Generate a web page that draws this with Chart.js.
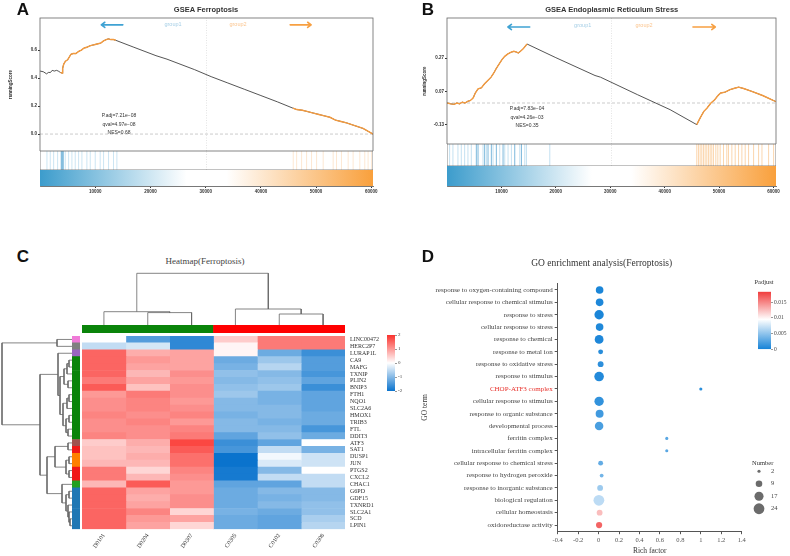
<!DOCTYPE html>
<html><head><meta charset="utf-8">
<script src="https://cdn.jsdelivr.net/npm/chart.js@4.4.1/dist/chart.umd.min.js"></script>
<style>
body{margin:0;background:#fff;}
#wrap{position:relative;width:790px;height:556px;overflow:hidden;font-family:"Liberation Sans",Arial,sans-serif;}
#wrap canvas{position:absolute;}
.t{position:absolute;white-space:nowrap;transform:translate(-50%,-50%);line-height:1;}
</style></head><body><div id="wrap"></div>
<script>
// ---------- A: GSEA Ferroptosis ----------
const aRank = [0,600,1200,1500,1900,2200,2600,3000,3300,3700,4000,4100,4300,4600,5000,5300,5600,6000,6500,7000,7500,8000,8500,9000,9500,10000,10500,11000,11500,12000,12400,12800,13300,13700,17000,21000,23000,25000,28000,31000,34000,37000,40000,43000,45800,46500,47500,48500,49500,50500,51500,52500,53500,54500,55500,57000,58500,60300];
const aScore = [0.45,0.445,0.43,0.44,0.44,0.455,0.45,0.455,0.45,0.44,0.435,0.47,0.50,0.52,0.53,0.55,0.57,0.575,0.575,0.59,0.60,0.615,0.62,0.63,0.635,0.64,0.645,0.65,0.665,0.675,0.68,0.675,0.675,0.67,0.62,0.56,0.535,0.505,0.46,0.41,0.365,0.32,0.275,0.23,0.185,0.175,0.17,0.16,0.15,0.14,0.13,0.12,0.10,0.09,0.08,0.06,0.04,0.0];
const aHitRanges = [[3700,13700],[45800,60300]];
const aHitsBlue = [1260,1860,2470,3190,4570,5180,5780,6380,6990,7590,8490,9100,10000,10900,11510,12410,13310,13920];
const aHitsBlueStrong = [3850,4030,4210];
const aHitsOrange = [45860,46470,47370,48270,49170,50080,51280,53090,53690,54590,55800,56700,57910,58810,59410,60020];
const aTicksY = [0, 0.2, 0.4, 0.6];
const aMaxRank = 60300;

// ---------- B: GSEA Endoplasmic Reticulum Stress ----------
const bRank = [0,700,1300,1800,2300,2800,3300,3800,4300,4800,5200,5700,6300,6900,7500,8100,8600,9100,9600,10100,10600,11200,11800,12300,12800,13100,13500,14000,14700,20000,27200,28200,35000,41000,45900,46200,46600,47200,47800,48500,49200,49800,50300,51100,52000,53000,53600,54500,56000,58000,60460];
const bScore = [0.0,-0.005,-0.008,0.0,-0.005,0.005,0.0,0.01,0.015,0.03,0.06,0.085,0.09,0.115,0.135,0.155,0.18,0.21,0.235,0.26,0.28,0.295,0.305,0.31,0.305,0.30,0.31,0.325,0.354,0.272,0.165,0.155,0.05,-0.04,-0.13,-0.11,-0.085,-0.05,-0.03,0.0,0.02,0.045,0.06,0.065,0.08,0.09,0.095,0.087,0.07,0.045,0.008];
const bHitRanges = [[0,14700],[45900,60460]];
const bHitsBlue = [480,1090,2010,2630,3240,3850,4470,6620,7240,8460,9690,10610,11220,11840,13370,14290,14600,18890];
const bHitsBlueStrong = [5390,5700,6920,7540,8150,9070,10300,12450,13680];
const bHitsOrange = [45900,46210,46520,46820,47130,47440,47740,48050,48360,48660,48970,49400,49770,50200,50810,51420,51730,52350,52960,53580,54190,54800,55420,56340,57260,57880,59100,60020];
const bTicksY = [-0.13, 0.07, 0.27];
const bMaxRank = 60460;
const rankTicks = [10000, 20000, 30000, 40000, 50000, 60000];

// ---------- C: heatmap ----------
const samples = ['D0101','D0204','D0307','C0305','C0102','C0308'];
const sampleGroup = ['D','D','D','C','C','C'];
const genes = ['LINC00472','HERC2P7','LURAP1L','CA9','MAFG','TXNIP','PLIN2','BNIP3','FTH1','NQO1','SLC2A6','HMOX1','TRIB3','FTL','DDIT3','ATF3','SAT1','DUSP1','JUN','PTGS2','CXCL2','CHAC1','G6PD','GDF15','TXNRD1','SLC2A1','SCD','LPIN1'];
const geneCluster = ['pink','gray','purple','green','green','green','green','green','green','green','green','green','green','green','green','brown','red','orange','orange','red','red','lime','blue','blue','blue','blue','blue','blue'];
const hmValues = [
  [0.0,-1.4,-1.7,0.5,1.3,1.3],
  [-0.5,-0.35,-1.7,0.1,1.3,1.3],
  [1.5,0.8,0.9,0.1,-1.2,-1.6],
  [1.5,1.0,0.9,-1.2,-0.8,-1.4],
  [1.5,0.9,0.9,-1.1,-0.6,-1.4],
  [1.5,0.7,1.1,-0.9,-1.0,-1.5],
  [1.3,0.9,1.0,-1.0,-0.9,-1.3],
  [1.6,0.6,1.1,-0.9,-0.8,-1.6],
  [1.0,1.3,1.1,-0.8,-1.1,-1.3],
  [1.1,1.2,1.0,-1.0,-1.1,-1.3],
  [1.1,1.2,1.1,-1.0,-1.0,-1.3],
  [1.2,1.1,1.2,-1.1,-1.0,-1.2],
  [1.1,1.2,1.0,-1.0,-1.1,-1.2],
  [1.1,1.1,1.2,-1.0,-1.0,-1.5],
  [1.2,1.1,1.3,-1.3,-0.9,-1.2],
  [0.5,0.8,1.8,-1.6,-1.3,0.0],
  [0.6,0.7,1.6,-1.5,-0.5,-1.1],
  [0.6,0.8,1.4,-2.0,-0.1,-0.4],
  [0.7,0.7,1.4,-2.0,-0.3,-0.4],
  [1.3,0.4,1.2,-1.9,-1.0,0.0],
  [1.3,0.7,1.1,-1.9,-0.5,-0.5],
  [0.7,1.6,1.0,-1.3,-1.3,-0.5],
  [1.5,0.9,1.0,-1.2,-1.0,-1.0],
  [1.5,0.8,1.1,-1.2,-1.1,-1.0],
  [1.5,0.9,1.1,-1.2,-1.0,-0.9],
  [1.5,1.2,0.4,-1.1,-1.2,-0.9],
  [1.5,1.0,0.9,-1.2,-1.3,-0.7],
  [1.5,0.9,0.4,-1.2,-1.3,-0.6]
];
// dendrograms: [left, right, height], leaves are indices
const colTree = [[0,[1,2,12.4],13.3],[3,[4,5,11],16],51.7];
const rowTree = [[0,1,15],
  [[2,[[[[3,4,3],5,5],[6,7,4],8],[[[8,9,3],10,5],[[11,12,3],[13,14,4],6],9],12],14],
   [[[15,16,4],[[17,18,3],[19,20,3],6],17],[21,[[22,23,3],[24,[25,[26,27,2],3],4],6],10],25],32],70];
const hmLegendTicks = [-2,-1,0,1,2];

// ---------- D: GO enrichment ----------
const goTerms = ['response to oxygen-containing compound','cellular response to chemical stimulus','response to stress','cellular response to stress','response to chemical','response to metal ion','response to oxidative stress','response to stimulus','CHOP-ATF3 complex','cellular response to stimulus','response to organic substance','developmental process','ferritin complex','intracellular ferritin complex','cellular response to chemical stress','response to hydrogen peroxide','response to inorganic substance','biological regulation','cellular homeostasis','oxidoreductase activity'];
const richFactor = [0.01,0.01,0.005,0.01,0.005,0.02,0.02,0.005,1.0,0.005,0.01,0.005,0.667,0.667,0.02,0.03,0.015,0.003,0.01,0.005];
const geneCount = [12,12,18,12,16,5,7,19,2,18,13,15,2,2,5,3,7,24,7,8];
const padj = [0.0003,0.0004,0.0003,0.0005,0.0004,0.0008,0.001,0.0006,0.0009,0.0012,0.0018,0.0022,0.0028,0.0028,0.0032,0.0038,0.0055,0.0068,0.0125,0.0165];
const highlightTerm = 'CHOP-ATF3 complex';
const richTicks = [-0.4,-0.2,0,0.2,0.4,0.6,0.8,1,1.2,1.4];
const padjTicks = [0,0.005,0.01,0.015];
const padjMax = 0.0183;
const numLegend = [2,9,17,24];

// ---------- helpers ----------
Chart.defaults.animation = false;
Chart.defaults.responsive = false;
Chart.defaults.plugins.legend.display = false;
Chart.defaults.plugins.tooltip.enabled = false;
Chart.defaults.font.family = '"Liberation Sans", Arial, sans-serif';
Chart.defaults.color = '#333';
Chart.defaults.layout.autoPadding = false;
const serif = '"Liberation Serif", "Times New Roman", serif';

const wrap = document.getElementById('wrap');
function cv(left, top, w, h) {
  const c = document.createElement('canvas');
  c.width = w; c.height = h;
  c.style.left = left + 'px'; c.style.top = top + 'px';
  wrap.appendChild(c);
  return c.getContext('2d');
}
function label(text, x, y, css) {
  const d = document.createElement('div');
  d.className = 't'; d.textContent = text;
  d.style.cssText = 'left:' + x + 'px;top:' + y + 'px;' + (css || '');
  wrap.appendChild(d);
}
// fix an axis box size and drop the extra padding Chart.js keeps for edge labels
const fit = (w, h) => s => {
  if (w != null) s.width = w;
  if (h != null) s.height = h;
  s.paddingTop = s.paddingBottom = s.paddingLeft = s.paddingRight = 0;
};
const mix = (a, b, t) => a.map((v, i) => Math.round(v + (b[i] - v) * t));
const rgb = c => 'rgb(' + c.join(',') + ')';
const hmLow = [10,115,205], hmHigh = [250,50,45], white = [255,255,255];
function heatColor(v) {
  const t = Math.max(-1, Math.min(1, v / 2));
  return rgb(t < 0 ? mix(white, hmLow, -t) : mix(white, hmHigh, t));
}
const padjLow = [20,130,215], padjHigh = [240,60,60], padjMid = 0.0095;
function padjColor(p) {
  return rgb(p < padjMid ? mix(padjLow, white, p / padjMid) : mix(white, padjHigh, Math.min(1, (p - padjMid) / (padjMax - padjMid))));
}
const frame = col => ({id: 'frame', afterDraw(ch) {
  const a = ch.chartArea, c = ch.ctx;
  c.save(); c.strokeStyle = col; c.lineWidth = 0.8;
  c.strokeRect(a.left, a.top, a.right - a.left, a.bottom - a.top); c.restore();
}});
const arrows = list => ({id: 'arrows', afterDatasetsDraw(ch) {
  const c = ch.ctx, sx = ch.scales.x, sy = ch.scales.y;
  list.forEach(a => {
    const x1 = sx.getPixelForValue(a.from), x2 = sx.getPixelForValue(a.to), y = sy.getPixelForValue(a.y), d = Math.sign(x2 - x1);
    c.save(); c.strokeStyle = a.color; c.lineWidth = 1.6; c.lineCap = 'round'; c.lineJoin = 'round';
    c.beginPath(); c.moveTo(x1, y); c.lineTo(x2, y);
    c.moveTo(x2 - d * 3.5, y - 2.6); c.lineTo(x2, y); c.lineTo(x2 - d * 3.5, y + 2.6);
    c.stroke(); c.restore();
  });
}});

// running score panel (Chart.js paints the first dataset on top)
function gseaRunning(ctx, xs, ys, ranges, xmax, ymin, ymax, yTicks, dec, yW, titlePad, padR, arrowList) {
  const pts = xs.map((x, i) => ({x, y: ys[i]}));
  const hit = xs.map((x, i) => ({x, y: ranges.some(r => x >= r[0] && x <= r[1]) ? ys[i] : null}));
  new Chart(ctx, {
    type: 'line',
    data: {datasets: [
      {data: hit, borderColor: '#f49b3f', borderWidth: 1.4, spanGaps: false},
      {data: pts, borderColor: '#2a2a2a', borderWidth: 0.8},
      {data: [{x: xmax / 2, y: ymin}, {x: xmax / 2, y: ymax}], borderColor: '#d8d8d8', borderWidth: 0.7, borderDash: [1, 1.5]},
      {data: [{x: 0, y: 0}, {x: xmax, y: 0}], borderColor: '#b5b5b5', borderWidth: 0.7, borderDash: [3, 2]}
    ]},
    options: {
      layout: {padding: {top: 18, right: padR, bottom: 0, left: 0}},
      elements: {point: {radius: 0}, line: {tension: 0}},
      scales: {
        x: {type: 'linear', min: 0, max: xmax, display: false},
        y: {min: ymin, max: ymax, afterFit: fit(yW, null),
          afterBuildTicks: s => { s.ticks = yTicks.map(v => ({value: v})); },
          ticks: {callback: v => v.toFixed(dec), font: {size: 4.5, weight: 'bold'}, padding: 1, color: '#333'},
          grid: {drawOnChartArea: false, tickLength: 2, color: '#333'}, border: {display: false},
          title: {display: true, text: 'runningScore', font: {size: 4.5, weight: 'bold'}, padding: {top: titlePad, bottom: 0}}}
      }
    },
    plugins: [frame('#666'), arrows(arrowList)]
  });
}
// gene hit barcode
function barcode(ctx, xmax, sets) {
  const lines = hits => hits.flatMap(x => [{x, y: 0}, {x, y: 1}, {x, y: null}]);
  new Chart(ctx, {
    type: 'line',
    data: {datasets: sets.map(s => ({data: lines(s.hits), borderColor: s.color, borderWidth: 0.8}))
      .concat([{data: [{x: xmax / 2, y: 0}, {x: xmax / 2, y: 1}], borderColor: '#d8d8d8', borderWidth: 0.7, borderDash: [1, 1.5]}])},
    options: {elements: {point: {radius: 0}},
      scales: {x: {type: 'linear', min: 0, max: xmax, display: false}, y: {min: 0, max: 1, display: false}}},
    plugins: [frame('#666')]
  });
}
// rank gradient with x axis
function rankBar(ctx, xmax, padL, padR) {
  new Chart(ctx, {
    type: 'line',
    data: {datasets: [{data: [{x: 0, y: 1}, {x: xmax, y: 1}], fill: 'start', borderColor: 'rgba(0,0,0,0)', borderWidth: 0,
      backgroundColor: c => {
        const a = c.chart.chartArea; if (!a) return null;
        const g = c.chart.ctx.createLinearGradient(a.left, 0, a.right, 0);
        g.addColorStop(0, '#3c9ccc'); g.addColorStop(0.44, '#ffffff'); g.addColorStop(0.56, '#ffffff'); g.addColorStop(1, '#f9a03c');
        return g;
      }}]},
    options: {layout: {padding: {left: padL, right: padR, top: 0, bottom: 0}}, elements: {point: {radius: 0}},
      scales: {
        x: {type: 'linear', min: 0, max: xmax, afterFit: fit(null, 14),
          afterBuildTicks: s => { s.ticks = rankTicks.map(v => ({value: v})); },
          ticks: {callback: v => String(v), font: {size: 4.5, weight: 'bold'}, padding: 1, maxRotation: 0, color: '#333'},
          grid: {drawOnChartArea: false, tickLength: 2, color: '#333'}, border: {display: true, color: '#555', width: 0.8}},
        y: {min: 0, max: 1, display: false}
      }}
  });
}

// ---------- panel A ----------
gseaRunning(cv(0, 0, 395, 151), aRank, aScore, aHitRanges, aMaxRank, -0.121, 0.829, aTicksY, 1, 40, 8, 22,
  [{from: 15000, to: 11100, y: 0.78, color: '#3fa2d3'}, {from: 45300, to: 49100, y: 0.78, color: '#f7a042'}]);
barcode(cv(40, 151, 333, 19), aMaxRank, [
  {hits: aHitsBlueStrong, color: 'rgba(50,145,200,0.85)'}, {hits: aHitsBlue, color: 'rgba(70,160,210,0.35)'},
  {hits: aHitsOrange, color: 'rgba(245,160,70,0.3)'}]);
rankBar(cv(0, 170, 395, 30), aMaxRank, 40, 22);

// ---------- panel B ----------
gseaRunning(cv(395, 0, 395, 144), bRank, bScore, bHitRanges, bMaxRank, -0.246, 0.51, bTicksY, 2, 52, 27, 14,
  [{from: 15200, to: 11200, y: 0.456, color: '#3fa2d3'}, {from: 45200, to: 49300, y: 0.456, color: '#f7a042'}]);
barcode(cv(447, 144, 329, 22), bMaxRank, [
  {hits: bHitsBlueStrong, color: 'rgba(50,145,200,0.8)'}, {hits: bHitsBlue, color: 'rgba(70,160,210,0.4)'},
  {hits: bHitsOrange, color: 'rgba(245,160,70,0.55)'}]);
rankBar(cv(395, 166, 395, 34), bMaxRank, 52, 14);

// ---------- panel C ----------
function dendro(tree, leafPos, rowWise) {
  const out = [];
  const pt = (p, h) => rowWise ? {x: h, y: p} : {x: p, y: h};
  (function walk(n) {
    if (typeof n === 'number') return {p: leafPos(n), h: 0};
    const a = walk(n[0]), b = walk(n[1]), h = n[2];
    out.push(pt(a.p, a.h), pt(a.p, h), pt(b.p, h), pt(b.p, b.h), {x: 0, y: null});
    return {p: (a.p + b.p) / 2, h};
  })(tree);
  return out;
}
new Chart(cv(82, 270, 263, 55), {
  type: 'line',
  data: {datasets: [{data: dendro(colTree, i => i + 0.5, false), borderColor: '#666', borderWidth: 0.8}]},
  options: {elements: {point: {radius: 0}},
    scales: {x: {type: 'linear', min: 0, max: samples.length, display: false}, y: {min: 0, max: 55, display: false}}}
});
new Chart(cv(0, 336, 72, 220), {
  type: 'line',
  data: {datasets: [{data: dendro(rowTree, i => i + 0.5, true), borderColor: '#666', borderWidth: 0.8}]},
  options: {layout: {padding: {bottom: 26.8}}, elements: {point: {radius: 0}},
    scales: {x: {type: 'linear', min: 0, max: 72, reverse: true, display: false}, y: {min: 0, max: genes.length, reverse: true, display: false}}}
});
const sampleColors = {D: '#0a840a', C: '#ff0000'};
new Chart(cv(82, 325, 263, 8), {
  type: 'bar',
  data: {labels: samples, datasets: [{data: samples.map(() => 1), backgroundColor: sampleGroup.map(g => sampleColors[g]), barPercentage: 1, categoryPercentage: 1}]},
  options: {scales: {x: {display: false}, y: {min: 0, max: 1, display: false}}}
});
const clusterColors = {pink: '#f07ad8', gray: '#808080', purple: '#9a66c0', green: '#0a840a', brown: '#a0524f', red: '#f01818', orange: '#ff8000', lime: '#22a022', blue: '#1f77b4'};
new Chart(cv(72, 336, 8, 220), {
  type: 'bar',
  data: {labels: genes, datasets: [{data: genes.map(() => 1), backgroundColor: geneCluster.map(k => clusterColors[k]), barPercentage: 1, categoryPercentage: 1}]},
  options: {indexAxis: 'y', layout: {padding: {bottom: 26.8}}, scales: {x: {min: 0, max: 1, display: false}, y: {display: false}}}
});
new Chart(cv(82, 336, 320, 220), {
  type: 'bar',
  data: {labels: genes, datasets: samples.map((s, c) => ({
    data: genes.map(() => [c, c + 1]), backgroundColor: hmValues.map(r => heatColor(r[c])),
    grouped: false, barPercentage: 1, categoryPercentage: 1}))},
  options: {indexAxis: 'y', scales: {
    x: {type: 'linear', min: 0, max: samples.length, afterFit: fit(null, 26.8),
      afterBuildTicks: s => { s.ticks = samples.map((_, i) => ({value: i + 0.5})); },
      ticks: {callback: (v, i) => samples[i], minRotation: 55, maxRotation: 55, font: {family: serif, size: 6}, padding: 3, color: '#333'},
      grid: {display: false, drawTicks: false}, border: {display: false}},
    y: {position: 'right', afterFit: fit(57, null),
      ticks: {font: {family: serif, size: 6}, padding: 5, color: '#333', autoSkip: false},
      grid: {display: false, drawTicks: false}, border: {display: false}}
  }}
});
function vGradient(stops) {
  return c => {
    const a = c.chart.chartArea; if (!a) return null;
    const g = c.chart.ctx.createLinearGradient(0, a.bottom, 0, a.top);
    stops.forEach(s => g.addColorStop(s[0], s[1]));
    return g;
  };
}
new Chart(cv(387, 332, 26, 62), {
  type: 'bar',
  data: {labels: [''], datasets: [{data: [[-2, 2]], barPercentage: 1, categoryPercentage: 1,
    backgroundColor: vGradient(hmLegendTicks.map(v => [(v + 2) / 4, heatColor(v)]))}]},
  options: {layout: {padding: {top: 3, bottom: 3}}, scales: {
    x: {display: false},
    y: {position: 'right', min: -2, max: 2, afterFit: fit(18, null),
      afterBuildTicks: s => { s.ticks = hmLegendTicks.map(v => ({value: v})); },
      ticks: {font: {family: serif, size: 5}, padding: 1, color: '#444'},
      grid: {drawOnChartArea: false, tickLength: 2, color: '#999'}, border: {display: false}}
  }}
});

// ---------- panel D ----------
new Chart(cv(395, 270, 355, 286), {
  type: 'bubble',
  data: {datasets: [{data: goTerms.map((t, i) => ({x: richFactor[i], y: t, r: 1.1 * Math.sqrt(geneCount[i])})),
    backgroundColor: padj.map(padjColor), borderWidth: 0}]},
  options: {clip: false, layout: {padding: {left: 22, top: 13.8, right: 8.3, bottom: 0}},
    scales: {
      x: {type: 'linear', min: -0.4, max: 1.4, afterFit: fit(null, 24.8),
        afterBuildTicks: s => { s.ticks = richTicks.map(v => ({value: v})); },
        ticks: {callback: v => String(+v.toFixed(1)), font: {family: serif, size: 6.5}, padding: 2, color: '#555'},
        grid: {drawOnChartArea: false, tickLength: 3, color: '#555'}, border: {color: '#555'},
        title: {display: true, text: 'Rich factor', font: {family: serif, size: 7.5}, padding: 0, color: '#333'}},
      y: {type: 'category', labels: goTerms, offset: true, afterFit: fit(140.7, null),
        ticks: {autoSkip: false, font: {family: serif, size: 7}, padding: 2,
          color: c => goTerms[c.index] === highlightTerm ? '#e8302a' : '#444'},
        grid: {drawOnChartArea: false, tickLength: 3, color: '#555'}, border: {color: '#555'},
        title: {display: true, text: 'GO term', font: {family: serif, size: 7.5}, padding: {top: 4, bottom: 0}, color: '#333'}}
    }}
});
new Chart(cv(758, 289, 32, 64), {
  type: 'bar',
  data: {labels: [''], datasets: [{data: [[0, padjMax]], barPercentage: 1, categoryPercentage: 1,
    backgroundColor: vGradient([[0, padjColor(0)], [padjMid / padjMax, padjColor(padjMid)], [1, padjColor(padjMax)]])}]},
  options: {layout: {padding: {top: 2.7, bottom: 3.7}}, scales: {
    x: {display: false},
    y: {position: 'right', min: 0, max: padjMax, afterFit: fit(19, null),
      afterBuildTicks: s => { s.ticks = padjTicks.map(v => ({value: v})); },
      ticks: {callback: v => String(+v.toFixed(3)), font: {family: serif, size: 5.5}, padding: 1, color: '#444'},
      grid: {drawOnChartArea: false, tickLength: 2, color: '#999'}, border: {display: false}}
  }}
});
new Chart(cv(749, 465, 41, 50), {
  type: 'bubble',
  data: {datasets: [{data: numLegend.map((n, i) => ({x: 0, y: i, r: 1.1 * Math.sqrt(n)})), backgroundColor: '#6b6b6b', borderWidth: 0}]},
  options: {clip: false, scales: {
    x: {min: -1, max: 1, display: false},
    y: {reverse: true, min: -0.5, max: 3.5, position: 'right', afterFit: fit(21, null),
      afterBuildTicks: s => { s.ticks = numLegend.map((_, i) => ({value: i})); },
      ticks: {callback: (v, i) => String(numLegend[i]), font: {family: serif, size: 6.5}, padding: 2, color: '#444'},
      grid: {display: false, drawTicks: false}, border: {display: false}}
  }}
});

// ---------- text ----------
const letter = 'font:bold 17px "Liberation Sans",Arial,sans-serif;color:#111;';
label('A', 23, 10, letter); label('B', 428, 10, letter);
label('C', 23, 257, letter); label('D', 428, 257, letter);
label('GSEA Ferroptosis', 206, 9, 'font:bold 7.5px "Liberation Sans",Arial;color:#333;');
label('GSEA Endoplasmic Reticulum Stress', 611.7, 9, 'font:bold 7.5px "Liberation Sans",Arial;color:#333;');
const note = 'font:5px "Liberation Sans",Arial;color:#333;';
label('P.adj=7.21e\u221208', 119, 115, note); label('qval=4.97e\u221208', 119, 124, note); label('NES=0.68', 119, 132, note);
label('P.adj=7.83e\u221204', 527, 108, note); label('qval=4.26e\u221203', 527, 116.5, note); label('NES=0.35', 527, 124.6, note);
const g1 = 'font:5.5px "Liberation Sans",Arial;color:#a6cfe6;', g2 = 'font:5.5px "Liberation Sans",Arial;color:#fbc58f;';
label('group1', 173, 24, g1); label('group2', 238, 24, g2);
label('group1', 582.7, 25, g1); label('group2', 644, 25, g2);
label('Heatmap(Ferroptosis)', 205, 261, 'font:9px "Liberation Serif",serif;color:#444;');
label('GO enrichment analysis(Ferroptosis)', 601.7, 263.3, 'font:9.5px "Liberation Serif",serif;color:#333;');
label('Padjust', 764, 280.7, 'font:6.5px "Liberation Serif",serif;color:#333;');
label('Number', 762.7, 461.7, 'font:6.5px "Liberation Serif",serif;color:#333;');
</script></body></html>
